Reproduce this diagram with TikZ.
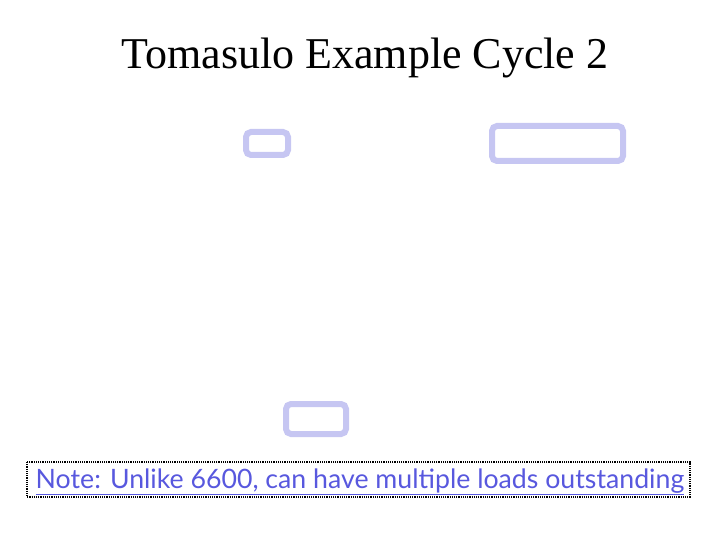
\documentclass[tikz,border=0pt]{standalone}
\usepackage{fontspec}
\setmainfont{Liberation Serif}
\newfontfamily\notefont{Lato}
\usepackage{tikz}
\definecolor{boxblue}{RGB}{198,198,242}
\definecolor{noteblue}{RGB}{88,88,222}
\begin{document}
\begin{tikzpicture}[x=1pt,y=-1pt]
    \useasboundingbox (0,0) rectangle (720,540);
    \node[anchor=base] (title) at (365,69) {\fontsize{44}{50}\selectfont Tomasulo Example Cycle 2};
    \draw[boxblue, line width=6pt, rounded corners=5pt] (246,132) rectangle (288,155);
    \draw[boxblue, line width=6pt, rounded corners=5pt] (492,126) rectangle (623,161);
    \draw[boxblue, line width=6pt, rounded corners=5pt] (286,404) rectangle (346,434);
    \draw[densely dotted, line width=1.2pt] (27,462) rectangle (690,497);
    \node[anchor=base, text=noteblue] (note) at (360,488) {\notefont\fontsize{26.7}{30}\selectfont\underline{Note: Unlike 6600, can have multiple loads outstanding}};
\end{tikzpicture}
\end{document}
